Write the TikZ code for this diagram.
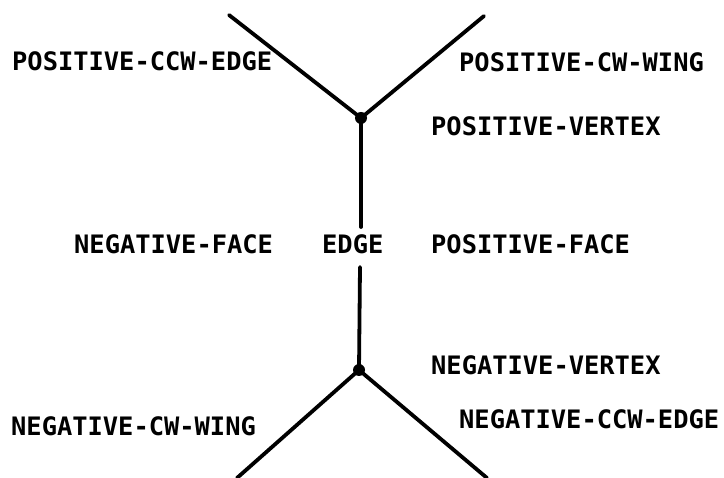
\documentclass[tikz,border=0pt]{standalone}
\usepackage{fontspec}
\newfontfamily\plotfont{DejaVu Sans Mono Bold}
\begin{document}
\begin{tikzpicture}[x=1pt,y=-1pt,
  lbl/.style={anchor=west,inner sep=0pt,font=\plotfont\fontsize{25.4}{30}\selectfont},
  vtx/.style={circle,fill=black,inner sep=0pt,minimum size=12pt},
  seg/.style={line width=3.8pt,line cap=round}]
\useasboundingbox (0,0) rectangle (724,478);
% vertices
\node[vtx] (pv) at (361,118) {};
\node[vtx] (nv) at (359,370) {};
% free ends
\coordinate (ul) at (229,15);
\coordinate (ur) at (484,16);
\coordinate (ll) at (237,478);
\coordinate (lr) at (487,478);
\coordinate (gt) at (361,227);
\coordinate (gb) at (360,267);
% lines
\draw[seg] (ul) -- (pv.center);
\draw[seg] (ur) -- (pv.center);
\draw[seg] (pv.center) -- (gt);
\draw[seg] (gb) -- (nv.center);
\draw[seg] (nv.center) -- (ll);
\draw[seg] (nv.center) -- (lr);
% labels
\node[lbl] (pccwe) at (12,61) {POSITIVE-CCW-EDGE};
\node[lbl] (pcww) at (459,62) {POSITIVE-CW-WING};
\node[lbl] (pvl) at (431,126) {POSITIVE-VERTEX};
\node[lbl] (nf) at (74,244) {NEGATIVE-FACE};
\node[lbl] (edge) at (322,244) {EDGE};
\node[lbl] (pf) at (431,244) {POSITIVE-FACE};
\node[lbl] (nvl) at (431,365) {NEGATIVE-VERTEX};
\node[lbl] (ncww) at (11,426) {NEGATIVE-CW-WING};
\node[lbl] (nccwe) at (459,419) {NEGATIVE-CCW-EDGE};
\end{tikzpicture}
\end{document}
